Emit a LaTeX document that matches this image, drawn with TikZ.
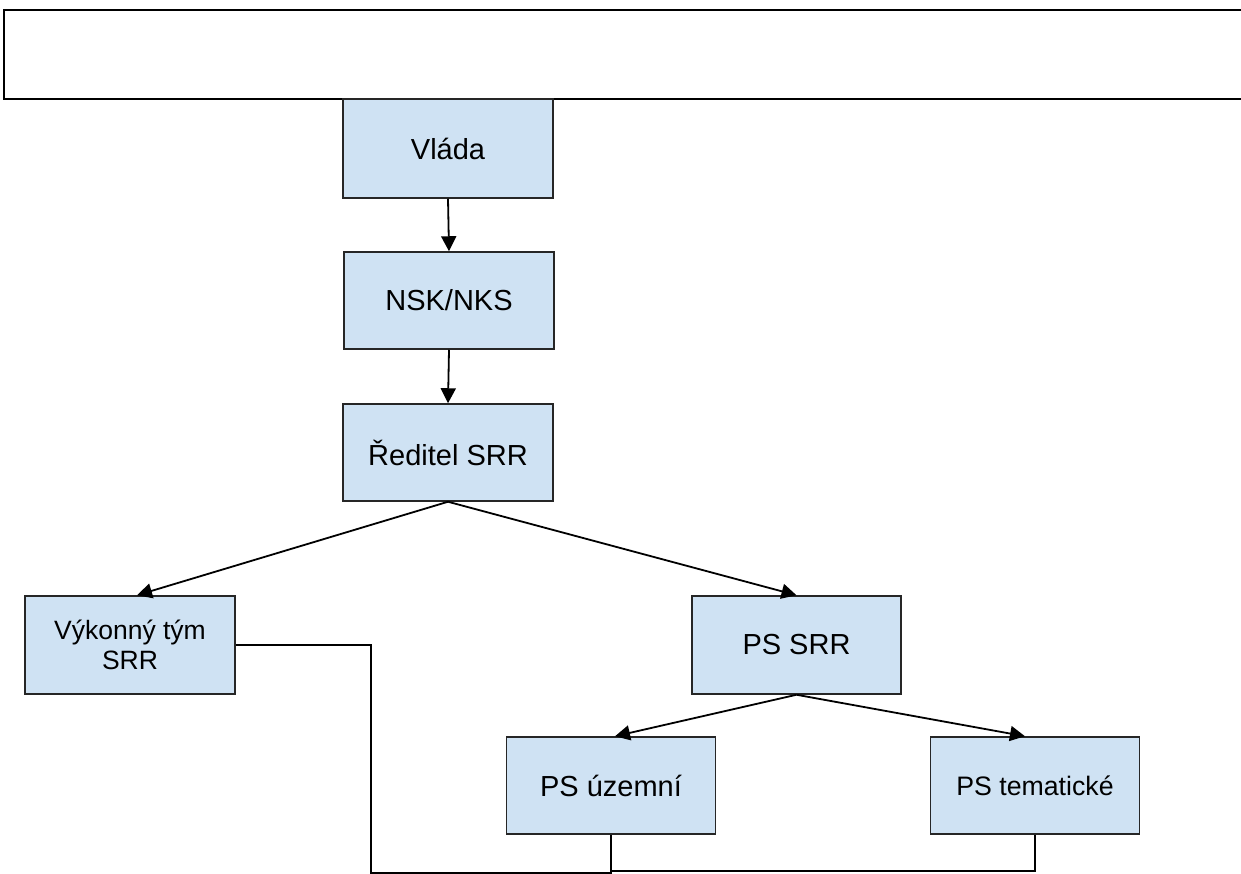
\documentclass[tikz,border=0pt]{standalone}
\usepackage{fontspec}
\setmainfont{Liberation Sans}
\usetikzlibrary{arrows.meta}
\definecolor{boxblue}{HTML}{CFE2F3}
\begin{document}
\begin{tikzpicture}[x=1pt,y=-1pt,
  orgbox/.style={draw=black!85, fill=boxblue, line width=1.5pt, inner sep=0pt,
    minimum width=210pt, minimum height=97pt, align=center,
    font=\fontsize{29}{30}\selectfont},
  smallbox/.style={orgbox, font=\fontsize{26.7}{30}\selectfont},
  arr/.style={line width=1.8pt, -{Triangle[length=15pt,width=15pt]}},
  conn/.style={line width=1.5pt}]
\useasboundingbox (0,0) rectangle (1241,874);
\clip (0,0) rectangle (1241,874);
\fill[white] (0,0) rectangle (1241,874);
% top frame (open to the right)
\draw[line width=2.4pt] (1250,10) -- (4,10) -- (4,99) -- (1250,99);
% boxes
\node[orgbox, minimum height=99pt] (vlada) at (448,148.5) {Vláda};
\node[orgbox] (nsk) at (449,300.5) {NSK/NKS};
\node[orgbox] (reditel) at (448,452.5) {Ředitel SRR};
\node[orgbox, minimum height=98pt, font=\fontsize{26.5}{30}\selectfont] (vykon) at (130,645) {Výkonný tým\\SRR};
\node[orgbox, minimum width=209pt, minimum height=98pt] (pssrr) at (796.5,645) {PS SRR};
\node[orgbox, minimum width=209pt] (psuz) at (611,785.5) {PS územní};
\node[smallbox, minimum width=209pt] (pstem) at (1035,785.5) {PS tematické};
% arrows
\draw[arr] (vlada.south) -- (nsk.north);
\draw[arr] (nsk.south) -- (reditel.north);
\draw[arr] (reditel.south) -- ([xshift=7pt]vykon.north);
\draw[arr] (reditel.south) -- (pssrr.north);
\draw[arr] (pssrr.south) -- ([xshift=4pt]psuz.north);
\draw[arr] (pssrr.south) -- ([xshift=-10pt]pstem.north);
% bottom connectors
\draw[conn] (vykon.east) -- (371,645) -- (371,873) -- (611,873) -- (psuz.south);
\draw[conn] (psuz.south) -- (611,871) -- (1035,871) -- (pstem.south);
\end{tikzpicture}
\end{document}
